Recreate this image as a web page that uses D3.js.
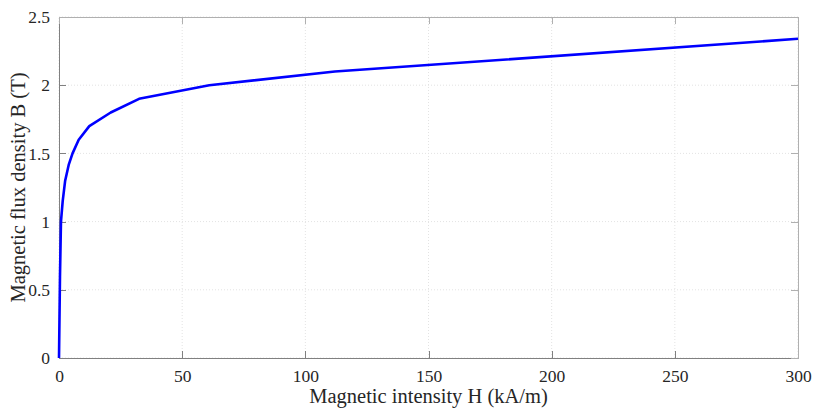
<!DOCTYPE html>
<html>
<head>
<meta charset="utf-8">
<script src="https://cdn.jsdelivr.net/npm/d3@7"></script>
<style>
  body { margin: 0; background: #fff; }
</style>
</head>
<body>
<script>
var width = 813, height = 408;
var margin = { top: 17, right: 15, bottom: 50, left: 59 };
var serif = "'Liberation Serif', 'Times New Roman', Times, serif";

// B-H curve
var fieldH = [0, 0.4, 0.8, 1.5, 2.5, 4, 5.5, 8, 12.3, 21, 32.5, 61, 112, 300];
var fluxB  = [0, 0.6, 1.0, 1.15, 1.3, 1.42, 1.5, 1.6, 1.7, 1.8, 1.9, 2.0, 2.1, 2.34];
var xTicks = [0, 50, 100, 150, 200, 250, 300];
var yTicks = [0, 0.5, 1, 1.5, 2, 2.5];

var data = fieldH.map(function(h, i) { return { h: h, b: fluxB[i] }; });

var x = d3.scaleLinear().domain([0, 300]).range([margin.left, width - margin.right]);
var y = d3.scaleLinear().domain([0, 2.5]).range([height - margin.bottom, margin.top]);

var svg = d3.select("body").append("svg")
    .attr("width", width)
    .attr("height", height)
    .attr("font-family", serif);

// grid
svg.append("g").selectAll("line").data(xTicks).enter().append("line")
    .attr("x1", d => x(d)).attr("x2", d => x(d))
    .attr("y1", y(0)).attr("y2", y(2.5))
    .attr("stroke", "#e3e3e3").attr("stroke-width", 1).attr("stroke-dasharray", "1,2");
svg.append("g").selectAll("line").data(yTicks).enter().append("line")
    .attr("x1", x(0)).attr("x2", x(300))
    .attr("y1", d => y(d)).attr("y2", d => y(d))
    .attr("stroke", "#e3e3e3").attr("stroke-width", 1).attr("stroke-dasharray", "1,2");

// axes (ticks inside, MATLAB style)
var xAxis = svg.append("g")
    .attr("transform", "translate(0," + y(0) + ")")
    .call(d3.axisBottom(x).tickValues(xTicks).tickSizeInner(-7).tickSizeOuter(0).tickPadding(12));
var yAxis = svg.append("g")
    .attr("transform", "translate(" + x(0) + ",0)")
    .call(d3.axisLeft(y).tickValues(yTicks).tickSizeInner(-7).tickSizeOuter(0).tickPadding(9).tickFormat(d3.format("")));
var xTop = svg.append("g")
    .attr("transform", "translate(0," + y(2.5) + ")")
    .call(d3.axisTop(x).tickValues(xTicks).tickSizeInner(-7).tickSizeOuter(0).tickFormat(""));
var yRight = svg.append("g")
    .attr("transform", "translate(" + x(300) + ",0)")
    .call(d3.axisRight(y).tickValues(yTicks).tickSizeInner(-7).tickSizeOuter(0).tickFormat(""));

[xAxis, yAxis, xTop, yRight].forEach(function(g) { g.attr("font-family", serif); });
[xAxis, yAxis].forEach(function(g) {
    g.select(".domain").attr("stroke", "#808080");
    g.selectAll(".tick line").attr("stroke", "#808080");
    g.selectAll(".tick text")
        .style("font-family", serif)
        .style("font-size", "17.5px")
        .attr("fill", "#262626");
});
[xTop, yRight].forEach(function(g) {
    g.select(".domain").attr("stroke", "#b0b0b0");
    g.selectAll(".tick line").attr("stroke", "#b0b0b0");
});
svg.selectAll(".domain, .tick line").attr("shape-rendering", "crispEdges");

// curve
svg.append("path")
    .datum(data)
    .attr("fill", "none")
    .attr("stroke", "#0000ff")
    .attr("stroke-width", 2.6)
    .attr("stroke-linejoin", "round")
    .attr("d", d3.line().x(d => x(d.h)).y(d => y(d.b)));

// labels
svg.append("text")
    .attr("x", (x(0) + x(300)) / 2)
    .attr("y", 403)
    .attr("text-anchor", "middle")
    .attr("fill", "#262626")
    .style("font-family", serif)
    .style("font-size", "20.5px")
    .text("Magnetic intensity H (kA/m)");

svg.append("text")
    .attr("transform", "translate(25," + (y(0) + y(2.5)) / 2 + ") rotate(-90)")
    .attr("text-anchor", "middle")
    .attr("fill", "#262626")
    .style("font-family", serif)
    .style("font-size", "20.5px")
    .text("Magnetic flux density B (T)");
</script>
</body>
</html>
